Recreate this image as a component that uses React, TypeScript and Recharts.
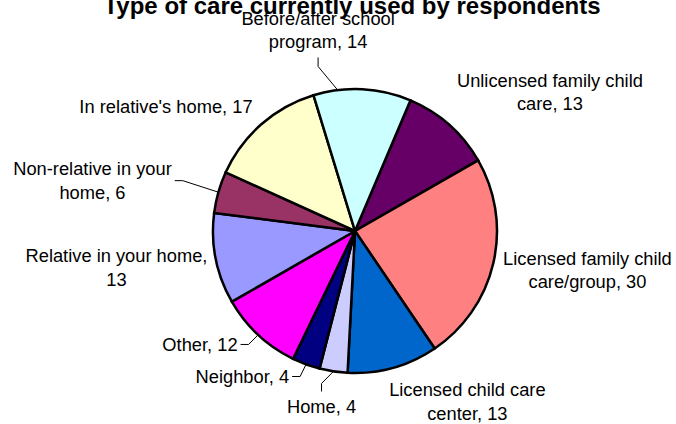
import React from 'react';
import { PieChart, Pie, Cell } from 'recharts';

// ---- data ----
const categories = [
  'Unlicensed family child care',
  'Licensed family child care/group',
  'Licensed child care center',
  'Home',
  'Neighbor',
  'Other',
  'Relative in your home',
  'Non-relative in your home',
  "In relative's home",
  'Before/after school program',
];
const counts = [13, 30, 13, 4, 4, 12, 13, 6, 17, 14];
const sliceColors = [
  '#660066',
  '#FF8080',
  '#0066CC',
  '#CCCCFF',
  '#000080',
  '#FF00FF',
  '#9999FF',
  '#993366',
  '#FFFFCC',
  '#CCFFFF',
];
const chartTitle = 'Type of care currently used by respondents';

// ---- layout / style (not data) ----
const W = 676;
const H = 424;
const FONT = '"Liberation Sans", Arial, sans-serif';
const LABEL_FS = 18.3;
const LINE_H = 23.5;
const WRAP_W = 200;

type Layout = { shift: number; gap: number; leader?: 'top' | 'bottom' | 'right'; leaderShift?: number };
// shift: clockwise degrees from slice mid-angle, gap: px beyond outer radius
const labelLayout: Layout[] = [
  { shift: 12.9, gap: 97.5 },
  { shift: -3.5, gap: 93.7 },
  { shift: -17.8, gap: 62.3 },
  { shift: 2.1, gap: 36.4, leader: 'top' },
  { shift: 17.6, gap: 42, leader: 'right' },
  { shift: 10.8, gap: 50.1, leader: 'right' },
  { shift: 2.6, gap: 99.3 },
  { shift: -5.0, gap: 125.3, leader: 'right' },
  { shift: -15.4, gap: 84.2 },
  { shift: -13.4, gap: 62.4, leader: 'bottom', leaderShift: -10 },
];

const data = categories.map((name, i) => ({ name, value: counts[i] }));

let measureCtx: CanvasRenderingContext2D | null = null;
function textWidth(s: string): number {
  if (!measureCtx && typeof document !== 'undefined') {
    const c = document.createElement('canvas');
    measureCtx = c.getContext('2d');
  }
  if (measureCtx) {
    measureCtx.font = `${LABEL_FS}px "Liberation Sans"`;
    return measureCtx.measureText(s).width;
  }
  return s.length * LABEL_FS * 0.5;
}

function wrap(text: string): string[] {
  const words = text.split(' ');
  const lines: string[] = [];
  let cur = '';
  for (const w of words) {
    const cand = cur ? cur + ' ' + w : w;
    if (cur && textWidth(cand) > WRAP_W) {
      lines.push(cur);
      cur = w;
    } else {
      cur = cand;
    }
  }
  if (cur) lines.push(cur);
  return lines;
}

const RAD = Math.PI / 180;

const renderLabel = (props: any) => {
  const { cx, cy, midAngle, outerRadius, index } = props;
  const lay = labelLayout[index];
  const ang = midAngle - lay.shift;
  const r = outerRadius + lay.gap;
  const x = cx + r * Math.cos(-ang * RAD);
  const y = cy + r * Math.sin(-ang * RAD);
  const lines = wrap(`${categories[index]}, ${counts[index]}`);
  const n = lines.length;
  const capHalf = 0.716 * LABEL_FS * 0.5;
  const maxW = Math.max(...lines.map(textWidth));

  let leader: React.ReactNode = null;
  if (lay.leader) {
    const la = midAngle - (lay.leaderShift ?? 0);
    const ex = cx + outerRadius * Math.cos(-la * RAD);
    const ey = cy + outerRadius * Math.sin(-la * RAD);
    let pts = '';
    if (lay.leader === 'right') {
      const ax = x + maxW / 2 + 3;
      pts = `${ax},${y} ${ax + 8},${y} ${ex},${ey}`;
    } else if (lay.leader === 'bottom') {
      const ay = y + (n * LINE_H) / 2 + 4;
      pts = `${x},${ay} ${x},${ay + 9} ${ex},${ey}`;
    } else {
      const ay = y - (n * LINE_H) / 2 - 3;
      pts = `${x},${ay} ${x},${ay - 8} ${ex},${ey}`;
    }
    leader = <polyline points={pts} fill="none" stroke="#000" strokeWidth={1} />;
  }

  return (
    <g>
      {leader}
      {lines.map((ln, i) => (
        <text
          key={i}
          x={x}
          y={y + (i - (n - 1) / 2) * LINE_H + capHalf}
          textAnchor="middle"
          fontFamily={FONT}
          fontSize={LABEL_FS}
          fill="#000"
        >
          {ln}
        </text>
      ))}
    </g>
  );
};

export default function App() {
  return (
    <div style={{ position: 'absolute', left: 0, top: 0, width: W, height: H, background: '#fff', overflow: 'hidden' }}>
      <PieChart width={W} height={H} margin={{ top: 0, right: 0, bottom: 0, left: 0 }}>
        <Pie
          data={data}
          dataKey="value"
          nameKey="name"
          cx={355}
          cy={231}
          outerRadius={142}
          innerRadius={0}
          startAngle={67}
          endAngle={-293}
          stroke="#000"
          strokeWidth={2.5}
          label={renderLabel}
          labelLine={false}
          isAnimationActive={false}
        >
          {data.map((d, i) => (
            <Cell key={d.name} fill={sliceColors[i]} stroke="#000" strokeWidth={2.5} />
          ))}
        </Pie>
      </PieChart>
      <svg
        width={W}
        height={H}
        style={{ position: 'absolute', left: 0, top: 0, pointerEvents: 'none' }}
      >
        <text x={352} y={13.5} textAnchor="middle" fontFamily={FONT} fontWeight="bold" fontSize={24} fill="#000">
          {chartTitle}
        </text>
      </svg>
    </div>
  );
}
